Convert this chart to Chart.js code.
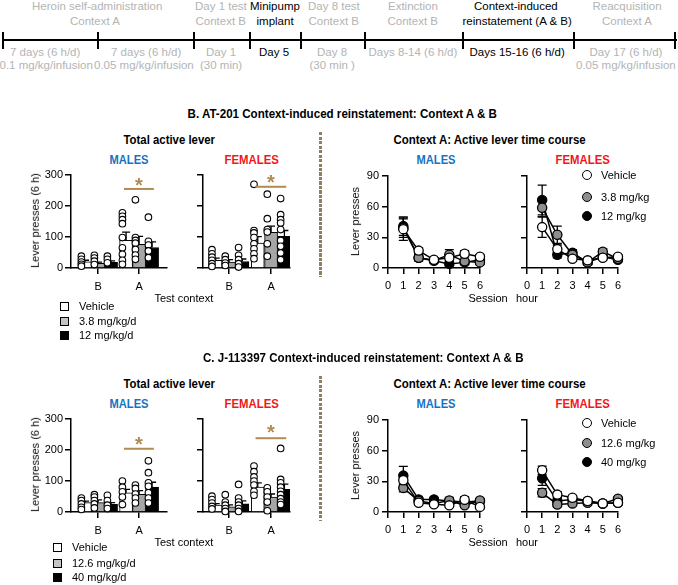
<!DOCTYPE html>
<html><head><meta charset="utf-8">
<script src="https://cdn.jsdelivr.net/npm/chart.js@4"></script>
<style>
body{margin:0;background:#fff;font-family:"Liberation Sans",Arial,sans-serif;}
#root{position:relative;width:678px;height:585px;overflow:hidden;background:#fff;}
.t{position:absolute;white-space:nowrap;line-height:1;}
canvas{position:absolute;}
</style></head><body><div id="root"></div>
<script>
// ---------- DATA ----------
const contexts = ['B', 'A'];
const hours = [1, 2, 3, 4, 5, 6];
const at201BarDoses = ['Vehicle', '3.8 mg/kg/d', '12 mg/kg/d'];
const j113BarDoses = ['Vehicle', '12.6 mg/kg/d', '40 mg/kg/d'];
const at201LineDoses = ['Vehicle', '3.8 mg/kg', '12 mg/kg'];
const j113LineDoses = ['Vehicle', '12.6 mg/kg', '40 mg/kg'];

// Total active lever: [dose][context B, A]
const at201MaleMean = [[20, 89], [15, 76], [18, 66]];
const at201MaleSem = [[5, 27], [4, 26], [5, 18]];
const at201MaleDots = [
  [[38, 28, 19, 12, 6], [178, 167, 156, 143, 98, 65, 44, 25, 12]],
  [[41, 32, 22, 11], [220, 98, 89, 80, 60, 42, 28]],
  [[38, 28, 17], [164, 86, 74, 55, 33]]
];
const at201FemaleMean = [[25, 80], [19, 115], [21, 102]];
const at201FemaleSem = [[7, 21], [8, 20], [8, 19]];
const at201FemaleDots = [
  [[59, 46, 35, 25, 14, 5], [270, 121, 113, 98, 78, 62, 46, 30]],
  [[38, 27, 16, 8], [238, 159, 124, 116, 78, 38]],
  [[66, 41, 27, 14, 3], [224, 172, 156, 145, 124, 89, 70, 48, 27]]
];
const j113MaleMean = [[30, 62], [30, 57], [25, 80]];
const j113MaleSem = [[5, 11], [9, 12], [5, 16]];
const j113MaleDots = [
  [[45, 37, 26, 15, 8], [100, 80, 65, 48, 24]],
  [[56, 48, 37, 26, 13], [87, 76, 58, 45, 29]],
  [[54, 37, 22, 11], [165, 127, 94, 83, 62, 45, 29]]
];
const j113FemaleMean = [[22, 80], [17, 48], [26, 73]];
const j113FemaleSem = [[5, 14], [6, 10], [10, 17]];
const j113FemaleDots = [
  [[51, 40, 29, 18, 10], [148, 130, 113, 100, 87, 67, 54]],
  [[56, 32, 22, 11, 2], [78, 65, 48, 32, 4]],
  [[89, 45, 32, 22, 11, 2], [205, 105, 94, 80, 67, 56, 43, 32, 24]]
];
// significance: [line y, star y] for [male, female]
const at201Sig = [[255, 283], [262, 291]];
const j113Sig = [[204, 233], [238, 271]];

// Time course: [dose][hour 1..6]
const at201MaleHour = [[38, 17, 8, 10, 14, 11], [39, 10, 7.5, 13, 6.5, 5.5], [41, 10, 7, 4, 5.5, 8]];
const at201MaleHourSem = [[11, 3, 2, 3, 3, 2], [9, 3, 2, 5, 2, 2], [9, 3, 2, 2, 2, 2]];
const at201FemaleHour = [[40, 18.5, 9, 7.5, 10, 11], [59, 32.5, 13, 5.5, 16, 9], [66.5, 13, 15, 5.5, 11, 8]];
const at201FemaleHourSem = [[10, 4, 2, 2, 2, 2], [9, 8.5, 3, 2, 3, 2], [14.5, 3, 3, 2, 2, 2]];
const j113MaleHour = [[31, 9, 7.5, 6.5, 12, 5], [23.6, 10.7, 8.4, 11.3, 6.5, 11.3], [35.6, 12.3, 12.3, 10.7, 9.7, 10.7]];
const j113MaleHourSem = [[6, 2, 2, 2, 3, 2], [4, 2, 2, 3, 2, 2], [9, 2, 2, 2, 2, 2]];
const j113FemaleHour = [[40.8, 17, 14, 10.7, 8.4, 9], [18.8, 7.4, 8.4, 9, 8.4, 13], [33, 10.7, 12.3, 10.7, 8.4, 9]];
const j113FemaleHourSem = [[4, 3, 2, 2, 2, 2], [4, 2, 2, 2, 2, 2], [7, 2, 2, 2, 2, 2]];

// ---------- STYLE ----------
const FONT = '"Liberation Sans", Arial, sans-serif';
Chart.defaults.font.family = FONT;
Chart.defaults.font.size = 11;
Chart.defaults.color = '#000';
const BLUE = '#1672c4', RED = '#f01818', GREY_T = '#b4b4b4', SIG = '#b08c52', SEP = '#8c8064';
const barFill = ['#ffffff', '#a6a6a6', '#000000'];
const legendFill = ['#ffffff', '#c4c4c4', '#000000'];
const lineFill = ['#ffffff', '#8e8e8e', '#000000'];
const doseOff = [-0.317, 0, 0.317];
const dotShift = -0.09;

const root = document.getElementById('root');

function txt(s, cx, cy, o = {}) {
  const d = document.createElement('div');
  d.className = 't'; d.textContent = s;
  d.style.fontSize = (o.size || 11) + 'px';
  if (o.bold) d.style.fontWeight = 'bold';
  d.style.color = o.color || '#000';
  root.appendChild(d);
  const w = d.offsetWidth, h = d.offsetHeight;
  const left = o.left != null ? o.left : cx - w / 2;
  d.style.left = left + 'px';
  d.style.top = (cy - h / 2) + 'px';
  let tr = '';
  if (o.rot) tr += 'rotate(-90deg) ';
  if (o.w) { tr += 'scaleX(' + (o.w / w) + ')'; }
  if (tr) { d.style.transformOrigin = o.left != null ? '0 50%' : '50% 50%'; d.style.transform = tr; }
  return d;
}
function box(x, y, w, h, css) {
  const d = document.createElement('div');
  d.style.position = 'absolute';
  d.style.left = x + 'px'; d.style.top = y + 'px';
  d.style.width = w + 'px'; d.style.height = h + 'px';
  Object.assign(d.style, css || {});
  root.appendChild(d);
  return d;
}
function mkCanvas(left, top, w, h) {
  const c = document.createElement('canvas');
  c.width = w; c.height = h;
  c.style.left = left + 'px'; c.style.top = top + 'px';
  c.style.width = w + 'px'; c.style.height = h + 'px';
  root.appendChild(c);
  return c;
}

// ---------- TIMELINE ----------
box(2, 39, 675, 2, {background: '#000'});
[2, 97, 193, 249, 300, 364, 462, 573, 674].forEach(x => box(x, 32, 2, 17, {background: '#000'}));
const TS = 11.5;
[
  ['Heroin self-administration', 97, 7, GREY_T], ['Context A', 95, 22, GREY_T],
  ['7 days (6 h/d)', 45, 53, GREY_T], ['0.1 mg/kg/infusion', 46, 66, GREY_T],
  ['7 days (6 h/d)', 146, 53, GREY_T], ['0.05 mg/kg/infusion', 144, 66, GREY_T],
  ['Day 1 test', 221, 7, GREY_T], ['Context B', 221, 22, GREY_T], ['Day 1', 221, 53, GREY_T], ['(30 min)', 221, 66, GREY_T],
  ['Minipump', 275, 7, '#000'], ['implant', 275, 22, '#000'], ['Day 5', 274, 53, '#000'],
  ['Day 8 test', 334, 7, GREY_T], ['Context B', 334, 22, GREY_T], ['Day 8', 332, 53, GREY_T], ['(30 min )', 332, 66, GREY_T],
  ['Extinction', 413, 7, GREY_T], ['Context B', 413, 22, GREY_T], ['Days 8-14 (6 h/d)', 413, 53, GREY_T],
  ['Context-induced', 516, 7, '#000'], ['reinstatement (A & B)', 517, 22, '#000'], ['Days 15-16 (6 h/d)', 517, 53, '#000'],
  ['Reacquisition', 627, 7, GREY_T], ['Context A', 627, 22, GREY_T], ['Day 17 (6 h/d)', 626, 53, GREY_T], ['0.05 mg/kg/infusion', 626, 66, GREY_T]
].forEach(([s, x, y, c]) => txt(s, x, y, {size: TS, color: c}));

// ---------- PLUGINS ----------
const barErr = {
  id: 'barErr',
  afterDatasetDraw(chart, args) {
    const ds = chart.data.datasets[args.index];
    if (!ds.errs || ds.type !== 'bar') return;
    const ctx = chart.ctx, ys = chart.scales.y;
    ctx.save(); ctx.strokeStyle = '#000'; ctx.lineWidth = 1.3;
    args.meta.data.forEach((el, i) => {
      const top = ys.getPixelForValue(ds.data[i].y + ds.errs[i]);
      ctx.beginPath();
      ctx.moveTo(el.x, el.y); ctx.lineTo(el.x, top);
      ctx.moveTo(el.x - 4, top); ctx.lineTo(el.x + 4, top);
      ctx.stroke();
    });
    ctx.restore();
  }
};
const lineErr = {
  id: 'lineErr',
  beforeDatasetsDraw(chart) {
    const ctx = chart.ctx, xs = chart.scales.x, ys = chart.scales.y;
    ctx.save(); ctx.strokeStyle = '#000'; ctx.lineWidth = 1.3;
    chart.data.datasets.forEach(ds => {
      ds.data.forEach((p, i) => {
        const e = ds.errs[i];
        const x = xs.getPixelForValue(p.x);
        const y1 = ys.getPixelForValue(p.y - e), y2 = ys.getPixelForValue(p.y + e);
        ctx.beginPath();
        ctx.moveTo(x, y1); ctx.lineTo(x, y2);
        ctx.moveTo(x - 4.5, y1); ctx.lineTo(x + 4.5, y1);
        ctx.moveTo(x - 4.5, y2); ctx.lineTo(x + 4.5, y2);
        ctx.stroke();
      });
    });
    ctx.restore();
  }
};
function sigPlugin(sig) {
  return {
    id: 'sig',
    afterDatasetsDraw(chart) {
      const ctx = chart.ctx, xs = chart.scales.x, ys = chart.scales.y;
      const x1 = xs.getPixelForValue(1 - 0.37), x2 = xs.getPixelForValue(1 + 0.36);
      const yy = ys.getPixelForValue(sig[0]);
      ctx.save();
      ctx.strokeStyle = SIG; ctx.lineWidth = 2;
      ctx.beginPath(); ctx.moveTo(x1, yy); ctx.lineTo(x2, yy); ctx.stroke();
      ctx.fillStyle = SIG; ctx.font = 'bold 20px ' + FONT;
      ctx.textAlign = 'center'; ctx.textBaseline = 'alphabetic';
      ctx.fillText('*', (x1 + x2) / 2, ys.getPixelForValue(sig[1]) + 0.57 * 20);
      ctx.restore();
    }
  };
}

const YW = 40, PT = 14, PR = 8, XH = 26;
function axisStyle() {
  return {
    grid: {display: true, drawOnChartArea: false, drawTicks: true, tickLength: 6, color: '#000', lineWidth: 1.5, offset: false},
    border: {display: true, color: '#000', width: 1.5}
  };
}

function barChart(area, xr, mean, sem, dots, sig, showY) {
  const [L, T, R, B] = area;
  const c = mkCanvas(L - YW, T - PT, R - L + YW + PR, B - T + PT + XH);
  const datasets = [];
  mean.forEach((m, d) => {
    datasets.push({
      type: 'bar', data: contexts.map((_, ci) => ({x: ci + doseOff[d], y: m[ci]})),
      errs: sem[d], backgroundColor: barFill[d], borderColor: '#000', borderWidth: 1,
      barThickness: 13, grouped: false, order: 2
    });
  });
  dots.forEach((dd, d) => {
    const pts = [];
    dd.forEach((vals, ci) => vals.forEach(v => pts.push({x: ci + doseOff[d] + dotShift, y: v})));
    datasets.push({
      type: 'line', showLine: false, data: pts, pointRadius: 3.3, pointBorderWidth: 1.1,
      pointBackgroundColor: '#fff', pointBorderColor: '#000', order: 1, clip: false
    });
  });
  new Chart(c, {
    type: 'bar',
    data: {datasets},
    options: {
      responsive: false, animation: false, events: [], devicePixelRatio: 1,
      layout: {padding: {left: 0, top: PT, right: PR, bottom: 0}},
      plugins: {legend: {display: false}, tooltip: {enabled: false}},
      scales: {
        x: Object.assign(axisStyle(), {
          type: 'linear', min: xr[0], max: xr[1], offset: false,
          afterBuildTicks: s => { s.ticks = contexts.map((_, i) => ({value: i})); },
          ticks: {callback: (v, i) => contexts[i], padding: 6, autoSkip: false, maxRotation: 0, color: '#000', font: {size: 11}},
          afterFit: s => { s.height = XH; }
        }),
        y: Object.assign(axisStyle(), {
          type: 'linear', min: 0, max: 300,
          ticks: {stepSize: 100, padding: 2, color: '#000', font: {size: 11}, callback: v => showY ? String(v) : ''},
          afterFit: s => { s.width = YW; }
        })
      }
    },
    plugins: [barErr, sigPlugin(sig)]
  });
}

function lineChart(area, series, sems, showY) {
  const [L, T, R, B] = area;
  const c = mkCanvas(L - YW, T - PT, R - L + YW + PR, B - T + PT + XH);
  const datasets = series.map((vals, d) => ({
    data: hours.map((h, i) => ({x: h, y: vals[i]})), errs: sems[d],
    borderColor: '#000', borderWidth: 1.5, pointRadius: 4.6, pointBorderWidth: 1.3,
    pointBackgroundColor: lineFill[d], pointBorderColor: '#000', clip: false, tension: 0
  }));
  new Chart(c, {
    type: 'line',
    data: {datasets},
    options: {
      responsive: false, animation: false, events: [], devicePixelRatio: 1,
      layout: {padding: {left: 0, top: PT, right: PR, bottom: 0}},
      plugins: {legend: {display: false}, tooltip: {enabled: false}},
      scales: {
        x: Object.assign(axisStyle(), {
          type: 'linear', min: 0, max: 6,
          ticks: {stepSize: 1, padding: 5, autoSkip: false, maxRotation: 0, color: '#000', font: {size: 11}},
          afterFit: s => { s.height = XH; }
        }),
        y: Object.assign(axisStyle(), {
          type: 'linear', min: 0, max: 90,
          ticks: {stepSize: 30, padding: 3, color: '#000', font: {size: 11}, callback: v => showY ? String(v) : ''},
          afterFit: s => { s.width = YW; }
        })
      }
    },
    plugins: [lineErr]
  });
}

// ---------- PANELS ----------
function panel(dy, title, titleCx, titleW, barDoses, lineDoses, mMean, mSem, mDots, fMean, fSem, fDots, sig, mHour, mHourSem, fHour, fHourSem) {
  txt(title, titleCx, 114 + dy, {size: 12, bold: true, w: titleW});
  txt('Total active lever', 169, 140 + dy, {size: 12, bold: true, w: 92});
  txt('Context A: Active lever time course', 489, 140 + dy, {size: 12, bold: true, w: 192});
  txt('MALES', 129, 160 + dy, {size: 12, bold: true, color: BLUE, w: 39});
  txt('FEMALES', 251, 160 + dy, {size: 12, bold: true, color: RED, w: 54});
  txt('MALES', 436, 160 + dy, {size: 12, bold: true, color: BLUE, w: 39});
  txt('FEMALES', 582, 160 + dy, {size: 12, bold: true, color: RED, w: 54});
  // separator
  box(319, 132 + dy, 3, 145, {background: 'repeating-linear-gradient(to bottom,' + SEP + ' 0 3px, transparent 3px 4.5px)'});

  barChart([71, 175 + dy, 167, 268 + dy], [-0.66, 1.68], mMean, mSem, mDots, sig[0], true);
  barChart([203, 175 + dy, 290, 268 + dy], [-0.62, 1.45], fMean, fSem, fDots, sig[1], false);
  lineChart([388, 176 + dy, 480, 268 + dy], mHour, mHourSem, true);
  lineChart([527, 176 + dy, 618, 268 + dy], fHour, fHourSem, false);

  txt('Lever presses (6 h)', 35, 220 + dy, {size: 11, rot: true});
  txt('Lever presses', 355, 221 + dy, {size: 11, rot: true});
  txt('Test context', 184, 298 + dy, {size: 11});
  txt('Session', 488, 298 + dy, {size: 11});
  txt('hour', 527, 298 + dy, {size: 11});

  // bar legend
  const lx = dy ? 53 : 60, ltx = dy ? 72 : 79;
  const ly = dy ? [547, 563, 577] : [306, 321, 335];
  barDoses.forEach((s, d) => {
    box(lx, ly[d] - 4.5, 9, 9, {background: legendFill[d], border: '1.2px solid #000', boxSizing: 'border-box'});
    txt(s, 0, ly[d], {size: 11, left: ltx});
  });
  // line legend
  const cy = dy ? [423, 443, 462] : [175, 197, 216];
  lineDoses.forEach((s, d) => {
    box(582, cy[d] - 5, 10, 10, {background: lineFill[d], border: '1.3px solid #000', borderRadius: '50%', boxSizing: 'border-box'});
    txt(s, 0, cy[d], {size: 11, left: 601});
  });
}

panel(0, 'B. AT-201 Context-induced reinstatement: Context A & B', 342, 309, at201BarDoses, at201LineDoses,
  at201MaleMean, at201MaleSem, at201MaleDots, at201FemaleMean, at201FemaleSem, at201FemaleDots, at201Sig,
  at201MaleHour, at201MaleHourSem, at201FemaleHour, at201FemaleHourSem);
panel(244, 'C. J-113397 Context-induced reinstatement: Context A & B', 363, 321, j113BarDoses, j113LineDoses,
  j113MaleMean, j113MaleSem, j113MaleDots, j113FemaleMean, j113FemaleSem, j113FemaleDots, j113Sig,
  j113MaleHour, j113MaleHourSem, j113FemaleHour, j113FemaleHourSem);
</script>
</body></html>
